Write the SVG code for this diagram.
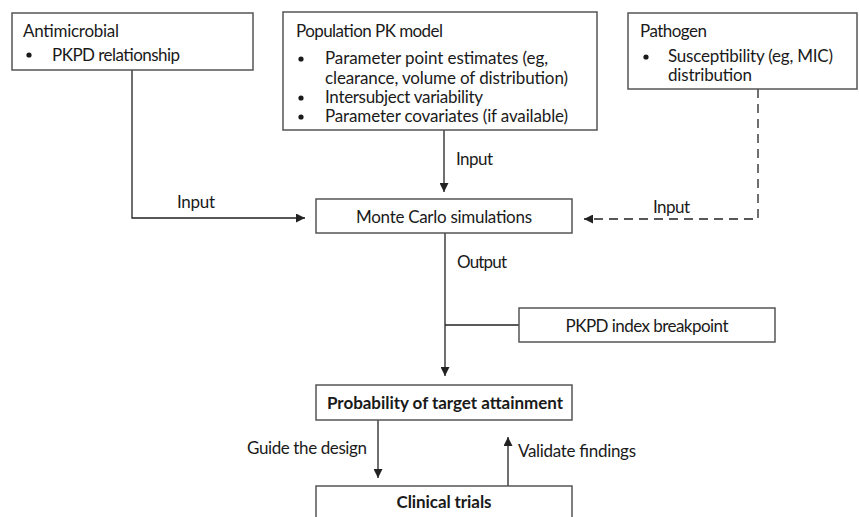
<svg xmlns="http://www.w3.org/2000/svg" width="859" height="517" viewBox="0 0 859 517">
<defs>
<style>
.box{fill:#fff;stroke:#555;stroke-width:1.5}
.t{font-family:Lato,"Open Sans","Liberation Sans",sans-serif;font-size:17px;fill:#1a1a1a}
.b{font-weight:bold}
.m{text-anchor:middle}
.ln{fill:none;stroke:#222;stroke-width:1.3}
.dash{stroke-dasharray:9 6}
.dot{fill:#1a1a1a}
</style>
<marker id="ah" viewBox="0 0 10 10" refX="10" refY="5" markerWidth="9" markerHeight="9" markerUnits="userSpaceOnUse" orient="auto">
<path d="M0,0 L10,5 L0,10 z" fill="#222"/>
</marker>
</defs>
<rect width="859" height="517" fill="#fff"/>

<g id="connectors">
<polyline class="ln" points="132,70 132,218 305,218" marker-end="url(#ah)"/>
<line class="ln" x1="444" y1="130" x2="444" y2="192" marker-end="url(#ah)"/>
<polyline class="ln dash" points="758,89 758,219 584,219" marker-end="url(#ah)"/>
<line class="ln" x1="445" y1="233" x2="445" y2="376" marker-end="url(#ah)"/>
<line class="ln" x1="445" y1="325" x2="519" y2="325"/>
<line class="ln" x1="378" y1="420" x2="378" y2="478" marker-end="url(#ah)"/>
<line class="ln" x1="508" y1="486" x2="508" y2="437" marker-end="url(#ah)"/>
<text class="t" x="456" y="165" textLength="37">Input</text>
<text class="t" x="177" y="208" textLength="38">Input</text>
<text class="t" x="653" y="213" textLength="37">Input</text>
<text class="t" x="457" y="268" textLength="50">Output</text>
<text class="t" x="247" y="454" textLength="120">Guide the design</text>
<text class="t" x="518" y="457" textLength="118">Validate findings</text>
</g>

<g id="antimicrobial">
<rect class="box" x="12" y="13" width="241" height="57"/>
<text class="t" x="23" y="37" textLength="96">Antimicrobial</text>
<circle class="dot" cx="29" cy="55" r="2.6"/>
<text class="t" x="52" y="61" textLength="128">PKPD relationship</text>
</g>

<g id="population-pk">
<rect class="box" x="283" y="12" width="314" height="118"/>
<text class="t" x="296" y="37" textLength="147">Population PK model</text>
<circle class="dot" cx="301" cy="59" r="2.6"/>
<text class="t" x="325" y="64" textLength="223">Parameter point estimates (eg,</text>
<text class="t" x="325" y="84" textLength="243">clearance, volume of distribution)</text>
<circle class="dot" cx="301" cy="98" r="2.6"/>
<text class="t" x="325" y="103" textLength="158">Intersubject variability</text>
<circle class="dot" cx="301" cy="117" r="2.6"/>
<text class="t" x="325" y="122" textLength="243">Parameter covariates (if available)</text>
</g>

<g id="pathogen">
<rect class="box" x="628" y="13" width="229" height="76"/>
<text class="t" x="640" y="37" textLength="67">Pathogen</text>
<circle class="dot" cx="646" cy="57" r="2.6"/>
<text class="t" x="668" y="62" textLength="165">Susceptibility (eg, MIC)</text>
<text class="t" x="668" y="81" textLength="84">distribution</text>
</g>

<g id="monte-carlo">
<rect class="box" x="316" y="199" width="256" height="34"/>
<text class="t m" x="444" y="223" textLength="176">Monte Carlo simulations</text>
</g>

<g id="pkpd-index">
<rect class="box" x="519" y="308" width="256" height="34"/>
<text class="t m" x="647" y="332" textLength="163">PKPD index breakpoint</text>
</g>

<g id="pta">
<rect class="box" x="316" y="385" width="256" height="35"/>
<text class="t b m" x="445" y="409" textLength="236">Probability of target attainment</text>
</g>

<g id="clinical-trials">
<rect class="box" x="316" y="486" width="256" height="40"/>
<text class="t b m" x="444" y="508" textLength="95">Clinical trials</text>
</g>
</svg>
